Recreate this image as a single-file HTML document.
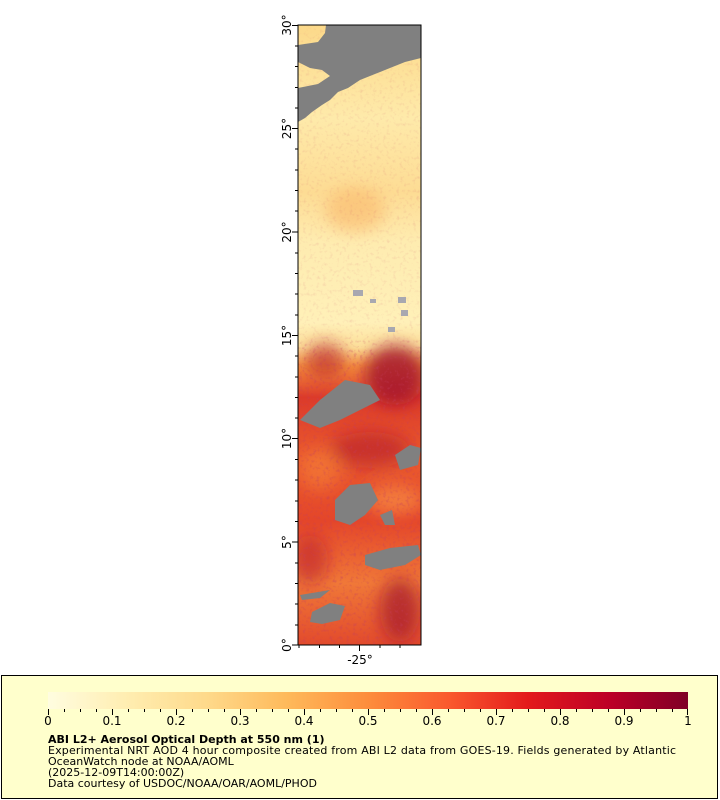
<!DOCTYPE html>
<html><head><meta charset="utf-8"><style>
body{margin:0;background:#fff;width:720px;height:800px;overflow:hidden;font-family:"DejaVu Sans","Liberation Sans",sans-serif}
</style></head><body>
<svg width="720" height="800" xmlns="http://www.w3.org/2000/svg" style="position:absolute;left:0;top:0">
<defs>
<linearGradient id="bg" x1="0" y1="0" x2="0" y2="1">
<stop offset="0" stop-color="#fcd98a"/>
<stop offset="0.15" stop-color="#feeaaa"/>
<stop offset="0.27" stop-color="#fddc94"/>
<stop offset="0.35" stop-color="#feecb0"/>
<stop offset="0.48" stop-color="#fff0b8"/>
<stop offset="0.52" stop-color="#fde09a"/>
<stop offset="0.55" stop-color="#f5903e"/>
<stop offset="0.6" stop-color="#dc3a2a"/>
<stop offset="0.7" stop-color="#ea5a2e"/>
<stop offset="0.8" stop-color="#e4462a"/>
<stop offset="0.9" stop-color="#f07838"/>
<stop offset="1" stop-color="#e24a2c"/>
</linearGradient>
<linearGradient id="cb" x1="0" y1="0" x2="1" y2="0">
<stop offset="0" stop-color="#fffde0"/>
<stop offset="0.125" stop-color="#ffedb0"/>
<stop offset="0.25" stop-color="#fed98a"/>
<stop offset="0.375" stop-color="#feb95a"/>
<stop offset="0.5" stop-color="#fd8d3c"/>
<stop offset="0.625" stop-color="#fa5a2e"/>
<stop offset="0.75" stop-color="#e31a1c"/>
<stop offset="0.875" stop-color="#bd0026"/>
<stop offset="1" stop-color="#800026"/>
</linearGradient>
<filter id="n" x="0" y="0" width="100%" height="100%">
<feTurbulence type="fractalNoise" baseFrequency="0.3" numOctaves="2" seed="3"/>
<feColorMatrix type="matrix" values="0 0 0 0 0.55  0 0 0 0 0.05  0 0 0 0 0.12  0 0 0 1.4 -0.75"/>
</filter>
<filter id="b"><feGaussianBlur stdDeviation="8"/></filter>
<linearGradient id="fade" x1="0" y1="0" x2="0" y2="1">
<stop offset="0" stop-color="#fff" stop-opacity="0"/>
<stop offset="0.5" stop-color="#fff" stop-opacity="0"/>
<stop offset="0.53" stop-color="#fff" stop-opacity="1"/>
<stop offset="1" stop-color="#fff" stop-opacity="1"/>
</linearGradient>
<mask id="m"><rect x="298" y="25" width="123" height="620" fill="url(#fade)"/></mask>
<clipPath id="pc"><rect x="298" y="25" width="123" height="620"/></clipPath>
</defs>
<g clip-path="url(#pc)">
<rect x="298" y="25" width="123" height="620" fill="url(#bg)"/>
<g filter="url(#b)">
<ellipse cx="355" cy="210" rx="30" ry="22" fill="#f9b060" opacity="0.5"/>
<ellipse cx="395" cy="375" rx="30" ry="30" fill="#a0102a" opacity="0.8"/>
<ellipse cx="325" cy="360" rx="20" ry="18" fill="#b81a28" opacity="0.6"/>
<ellipse cx="370" cy="450" rx="40" ry="18" fill="#b01a28" opacity="0.55"/>
<ellipse cx="400" cy="610" rx="20" ry="32" fill="#a0102a" opacity="0.65"/>
<ellipse cx="395" cy="500" rx="28" ry="14" fill="#fb9a48" opacity="0.6"/>
<ellipse cx="310" cy="560" rx="18" ry="25" fill="#b81a28" opacity="0.5"/>
<ellipse cx="320" cy="470" rx="20" ry="20" fill="#fa8a3a" opacity="0.5"/>
</g>
<rect x="298" y="25" width="123" height="620" filter="url(#n)" opacity="0.25"/>
<rect x="298" y="25" width="123" height="620" filter="url(#n)" opacity="0.7" mask="url(#m)"/>
<polygon fill="#808080" points="326,25 421,25 421,58 405,62 390,68 375,74 360,80 348,88 338,92 330,100 322,105 312,112 305,118 298,122 298,88 318,84 330,76 322,70 310,68 298,62 298,45 318,42 325,33"/>
<polygon fill="#808080" points="300,420 320,400 345,380 370,385 380,400 360,410 340,420 320,428"/>
<polygon fill="#808080" points="335,500 350,485 370,483 378,500 365,515 350,525 335,520"/>
<polygon fill="#808080" points="365,555 390,548 418,545 421,555 405,565 380,570 365,565"/>
<polygon fill="#808080" points="312,612 330,603 345,606 340,620 322,624 310,622"/>
<polygon fill="#808080" points="395,455 410,445 421,448 418,465 400,470"/>
<polygon fill="#808080" points="380,515 392,510 395,525 385,525"/>
<polygon fill="#808080" points="300,595 330,590 320,598 302,600"/>
<rect x="353" y="290" width="10" height="6" fill="#a8a8b0"/>
<rect x="398" y="297" width="8" height="6" fill="#a8a8b0"/>
<rect x="401" y="310" width="7" height="6" fill="#a8a8b0"/>
<rect x="370" y="299" width="6" height="4" fill="#a8a8b0"/>
<rect x="388" y="327" width="7" height="5" fill="#a8a8b0"/>
</g>
<rect x="298" y="25" width="123" height="620" fill="none" stroke="#000" stroke-width="1"/>
<g stroke="#000" stroke-width="1">
<path d="M292,25.5h6M292,128.5h6M292,232h6M292,335.5h6M292,438.5h6M292,542h6M292,645h6"/>
<path d="M295,46h3M295,66.5h3M295,87.5h3M295,108h3M295,149h3M295,170h3M295,190.5h3M295,211h3M295,253h3M295,273.5h3M295,294h3M295,315h3M295,356h3M295,377h3M295,397.5h3M295,418h3M295,459.5h3M295,480h3M295,501h3M295,521.5h3M295,563h3M295,583.5h3M295,604h3M295,625h3"/>
<path d="M359.5,645v6M299,645v3M319.5,645v3M339.5,645v3M380,645v3M400,645v3"/>
</g>
<g font-size="12" fill="#000">
<text transform="translate(291,25) rotate(-90)" text-anchor="middle">30°</text>
<text transform="translate(291,128.5) rotate(-90)" text-anchor="middle">25°</text>
<text transform="translate(291,232) rotate(-90)" text-anchor="middle">20°</text>
<text transform="translate(291,335.5) rotate(-90)" text-anchor="middle">15°</text>
<text transform="translate(291,438.5) rotate(-90)" text-anchor="middle">10°</text>
<text transform="translate(291,542) rotate(-90)" text-anchor="middle">5°</text>
<text transform="translate(291,645) rotate(-90)" text-anchor="middle">0°</text>
<text x="360" y="664" text-anchor="middle">-25°</text>
</g>
<rect x="1.5" y="675.5" width="716" height="123" fill="#ffffcc" stroke="#000"/>
<rect x="48" y="692" width="640" height="17" fill="url(#cb)"/>
<g stroke="#000">
<path d="M48.5,709v6M112.5,709v6M176.5,709v6M240.5,709v6M304.5,709v6M368.5,709v6M432.5,709v6M496.5,709v6M560.5,709v6M624.5,709v6M687.5,709v6"/>
<path d="M64.5,709v3M80.5,709v3M96.5,709v3M128.5,709v3M144.5,709v3M160.5,709v3M192.5,709v3M208.5,709v3M224.5,709v3M256.5,709v3M272.5,709v3M288.5,709v3M320.5,709v3M336.5,709v3M352.5,709v3M384.5,709v3M400.5,709v3M416.5,709v3M448.5,709v3M464.5,709v3M480.5,709v3M512.5,709v3M528.5,709v3M544.5,709v3M576.5,709v3M592.5,709v3M608.5,709v3M640.5,709v3M656.5,709v3M672.5,709v3"/>
</g>
<g font-size="12" fill="#000" text-anchor="middle">
<text x="48" y="725">0</text><text x="112" y="725">0.1</text><text x="176" y="725">0.2</text><text x="240" y="725">0.3</text><text x="304" y="725">0.4</text><text x="368" y="725">0.5</text><text x="432" y="725">0.6</text><text x="496" y="725">0.7</text><text x="560" y="725">0.8</text><text x="624" y="725">0.9</text><text x="688" y="725">1</text>
</g>
<g font-size="11" fill="#000">
<text x="48" y="743" font-weight="bold">ABI L2+ Aerosol Optical Depth at 550 nm (1)</text>
<text x="48" y="754" textLength="628">Experimental NRT AOD 4 hour composite created from ABI L2 data from GOES-19. Fields generated by Atlantic</text>
<text x="48" y="765">OceanWatch node at NOAA/AOML</text>
<text x="48" y="776">(2025-12-09T14:00:00Z)</text>
<text x="48" y="787">Data courtesy of USDOC/NOAA/OAR/AOML/PHOD</text>
</g>
</svg>
</body></html>
